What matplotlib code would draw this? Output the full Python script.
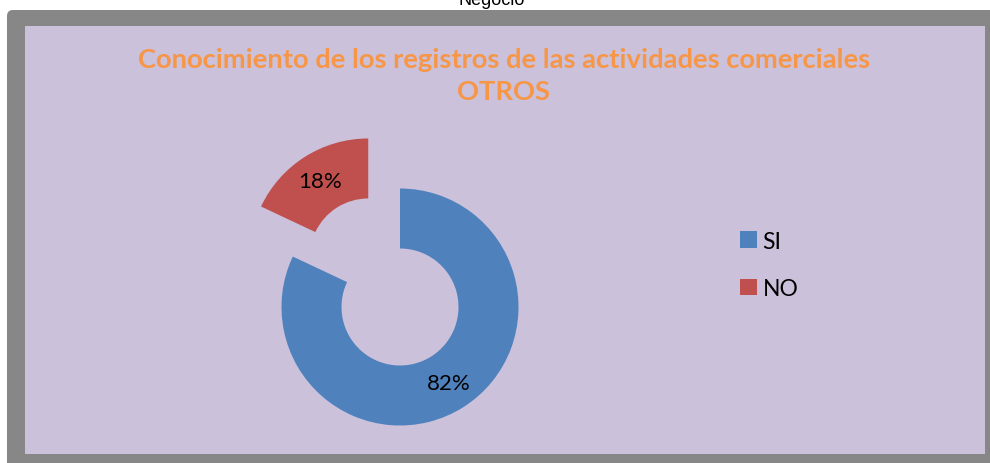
import matplotlib.pyplot as plt
from matplotlib.patches import FancyBboxPatch, Rectangle, Patch

# data
labels = ['SI', 'NO']
values = [82, 18]
colors = ['#4F81BD', '#C0504D']
title = 'Conocimiento de los registros de las actividades comerciales\nOTROS'
caption = 'Negocio'

W, H = 990, 464
fig = plt.figure(figsize=(W / 100, H / 100), dpi=100)
ax = fig.add_axes([0, 0, 1, 1])
ax.set_axis_off()

# frame
frame = FancyBboxPatch((7, -20), 1000, H - 11 + 20, boxstyle='round,pad=0,rounding_size=6',
                       facecolor='#878787', edgecolor='none', zorder=0)
ax.add_patch(frame)
ax.add_patch(Rectangle((25, 9), 960, 428, facecolor='#CBC1DA', edgecolor='none', zorder=1))

# cut caption above the frame
ax.text(492, H - 5, caption, ha='center', va='baseline', fontsize=13,
        family='Liberation Sans', color='black', zorder=3)

# donut
cx, cy, r = 400, H - 308, 118.5
wedges, texts, autotexts = ax.pie(values, colors=colors, startangle=90, counterclock=False,
                                  explode=[0, 0.5 * r], radius=r, center=(cx, cy),
                                  autopct='%1.0f%%', pctdistance=0.76,
                                  wedgeprops=dict(width=60, edgecolor='none'),
                                  textprops=dict(fontsize=16, family='Lato', color='black'),
                                  frame=False)
for w in wedges:
    w.set_zorder(2)
for t in autotexts:
    t.set_zorder(3)

ax.set_xlim(0, W)
ax.set_ylim(0, H)
ax.set_aspect('auto')

ax.text(504, H - 76, title, ha='center', va='center', fontsize=19.7, fontweight='bold',
        family='Lato', color='#F79646', linespacing=1.45, zorder=3)

handles = [Patch(facecolor=c, edgecolor='none') for c in colors]
leg = ax.legend(handles, labels, loc='upper left', bbox_to_anchor=(719 / W, 1 - 211 / H),
                frameon=False, prop=dict(family='Lato', size=16.5),
                handlelength=0.75, handleheight=0.75, handletextpad=0.25,
                labelspacing=1.15)
leg.set_zorder(4)

fig.savefig('out.png', dpi=100)
